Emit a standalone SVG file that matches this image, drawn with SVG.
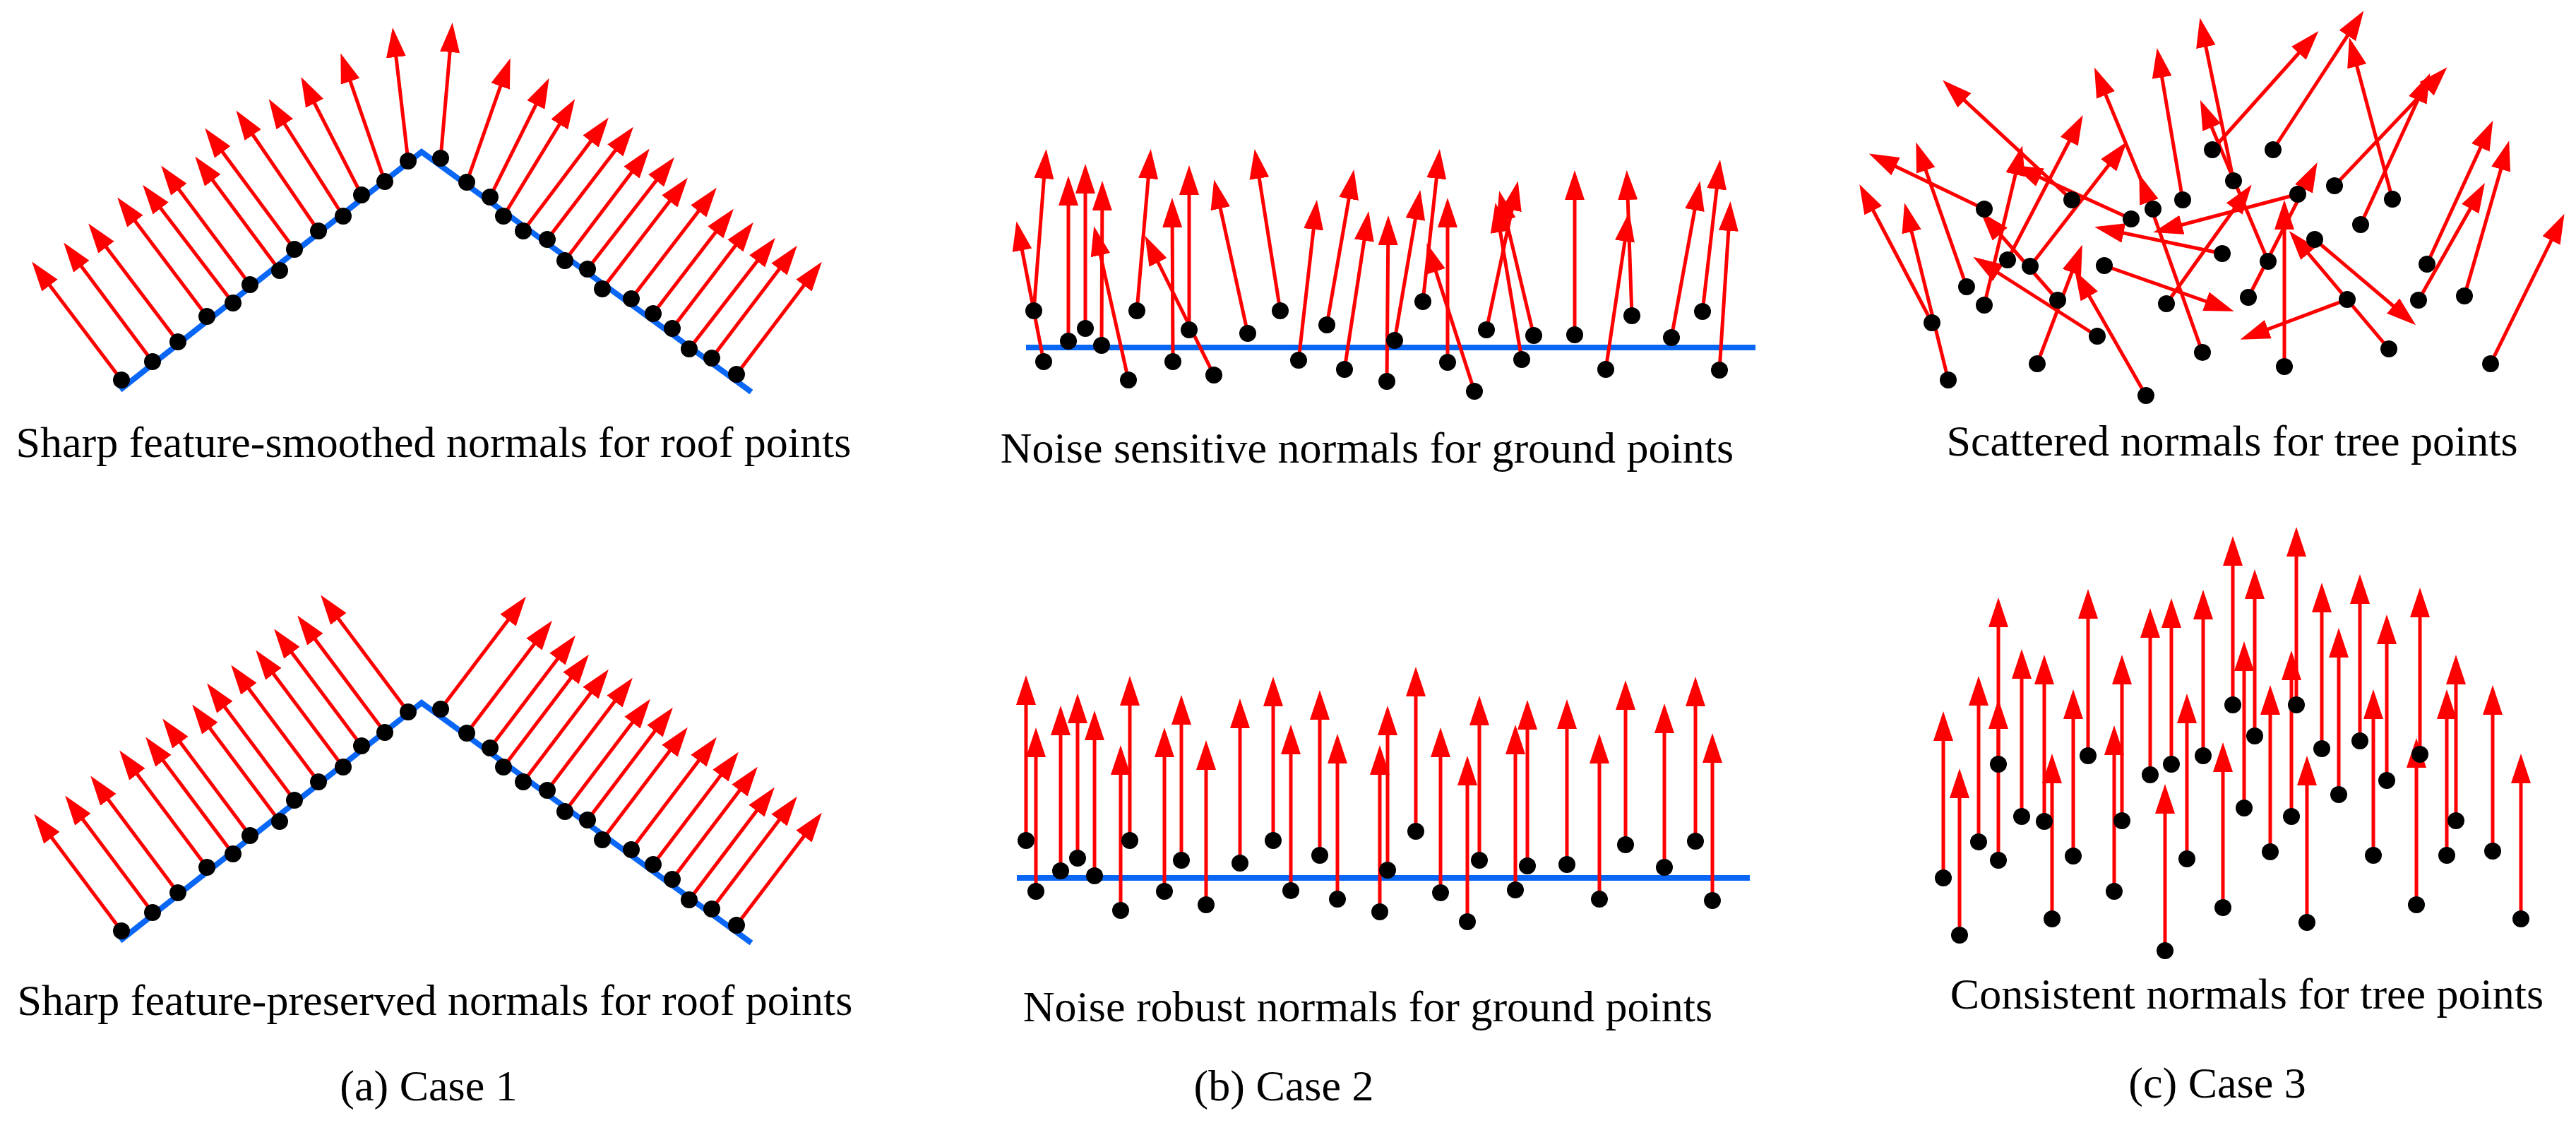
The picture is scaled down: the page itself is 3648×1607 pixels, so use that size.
<svg xmlns="http://www.w3.org/2000/svg" width="3648" height="1607" viewBox="0 0 3648 1607">
<defs>
<marker id="ah" markerUnits="userSpaceOnUse" markerWidth="42" markerHeight="28" refX="34" refY="14" orient="auto" viewBox="0 0 42 28"><path d="M0,0 L42,14 L0,28 z" fill="#ff0000"/></marker>
</defs>
<style>
.arr{stroke:#ff0000;stroke-width:5;fill:none;marker-end:url(#ah)}
.base{stroke:#0a66f5;stroke-width:8;fill:none;stroke-linecap:butt;stroke-linejoin:miter}
.dot{fill:#000000}
text{font-family:"Liberation Serif","Times New Roman",serif;font-size:62px;text-anchor:middle;fill:#000}
</style>
<rect width="3648" height="1607" fill="#ffffff"/>

<!-- Case 1 top -->
<g id="case1-top">
<polyline class="base" points="170,552 597,215 1064,555"/>
<g id="case1-top-normals">
<line class="arr" x1="172" y1="538" x2="50" y2="377"/>
<line class="arr" x1="216" y1="512" x2="95" y2="350"/>
<line class="arr" x1="252" y1="484" x2="130" y2="323"/>
<line class="arr" x1="293" y1="448" x2="171" y2="286"/>
<line class="arr" x1="330" y1="429" x2="207" y2="268"/>
<line class="arr" x1="354" y1="403" x2="233" y2="241"/>
<line class="arr" x1="396" y1="383" x2="281" y2="228"/>
<line class="arr" x1="417" y1="353" x2="295" y2="188"/>
<line class="arr" x1="451" y1="327" x2="339" y2="163"/>
<line class="arr" x1="486" y1="306" x2="385" y2="147"/>
<line class="arr" x1="512" y1="276" x2="430" y2="116"/>
<line class="arr" x1="545" y1="257" x2="485" y2="83"/>
<line class="arr" x1="578" y1="228" x2="557" y2="47"/>
<line class="arr" x1="624" y1="224" x2="640" y2="40"/>
<line class="arr" x1="661" y1="258" x2="720" y2="90"/>
<line class="arr" x1="694" y1="279" x2="774" y2="118"/>
<line class="arr" x1="713" y1="306" x2="810" y2="147"/>
<line class="arr" x1="741" y1="327" x2="857" y2="173"/>
<line class="arr" x1="775" y1="339" x2="892" y2="186"/>
<line class="arr" x1="800" y1="369" x2="915" y2="217"/>
<line class="arr" x1="832" y1="381" x2="950" y2="229"/>
<line class="arr" x1="853" y1="409" x2="969" y2="258"/>
<line class="arr" x1="894" y1="423" x2="1010" y2="272"/>
<line class="arr" x1="925" y1="444" x2="1034" y2="302"/>
<line class="arr" x1="952" y1="465" x2="1062" y2="321"/>
<line class="arr" x1="976" y1="494" x2="1093" y2="343"/>
<line class="arr" x1="1008" y1="507" x2="1124" y2="354"/>
<line class="arr" x1="1043" y1="530" x2="1159" y2="377"/>
</g>
<g id="case1-top-points">
<circle class="dot" cx="172" cy="538" r="12"/><circle class="dot" cx="216" cy="512" r="12"/><circle class="dot" cx="252" cy="484" r="12"/><circle class="dot" cx="293" cy="448" r="12"/><circle class="dot" cx="330" cy="429" r="12"/><circle class="dot" cx="354" cy="403" r="12"/><circle class="dot" cx="396" cy="383" r="12"/><circle class="dot" cx="417" cy="353" r="12"/><circle class="dot" cx="451" cy="327" r="12"/><circle class="dot" cx="486" cy="306" r="12"/><circle class="dot" cx="512" cy="276" r="12"/><circle class="dot" cx="545" cy="257" r="12"/><circle class="dot" cx="578" cy="228" r="12"/>
<circle class="dot" cx="624" cy="224" r="12"/><circle class="dot" cx="661" cy="258" r="12"/><circle class="dot" cx="694" cy="279" r="12"/><circle class="dot" cx="713" cy="306" r="12"/><circle class="dot" cx="741" cy="327" r="12"/><circle class="dot" cx="775" cy="339" r="12"/><circle class="dot" cx="800" cy="369" r="12"/><circle class="dot" cx="832" cy="381" r="12"/><circle class="dot" cx="853" cy="409" r="12"/><circle class="dot" cx="894" cy="423" r="12"/><circle class="dot" cx="925" cy="444" r="12"/><circle class="dot" cx="952" cy="465" r="12"/><circle class="dot" cx="976" cy="494" r="12"/><circle class="dot" cx="1008" cy="507" r="12"/><circle class="dot" cx="1043" cy="530" r="12"/>
</g>
<text x="614" y="647">Sharp feature-smoothed normals for roof points</text>
</g>

<!-- Case 1 bottom -->
<g id="case1-bottom">
<g transform="translate(0,780)">
<polyline class="base" points="170,552 597,215 1064,555"/>
<g id="case1-bottom-normals">
<line class="arr" x1="172" y1="538" x2="53" y2="379"/>
<line class="arr" x1="216" y1="512" x2="97" y2="353"/>
<line class="arr" x1="252" y1="484" x2="133" y2="325"/>
<line class="arr" x1="293" y1="448" x2="174" y2="289"/>
<line class="arr" x1="330" y1="429" x2="211" y2="270"/>
<line class="arr" x1="354" y1="403" x2="235" y2="244"/>
<line class="arr" x1="396" y1="383" x2="277" y2="224"/>
<line class="arr" x1="417" y1="353" x2="298" y2="194"/>
<line class="arr" x1="451" y1="327" x2="332" y2="168"/>
<line class="arr" x1="486" y1="306" x2="367" y2="147"/>
<line class="arr" x1="512" y1="276" x2="393" y2="117"/>
<line class="arr" x1="545" y1="257" x2="426" y2="98"/>
<line class="arr" x1="578" y1="228" x2="459" y2="69"/>
<line class="arr" x1="624" y1="224" x2="740" y2="71"/>
<line class="arr" x1="661" y1="258" x2="777" y2="105"/>
<line class="arr" x1="694" y1="279" x2="810" y2="126"/>
<line class="arr" x1="713" y1="306" x2="829" y2="153"/>
<line class="arr" x1="741" y1="327" x2="857" y2="174"/>
<line class="arr" x1="775" y1="339" x2="891" y2="186"/>
<line class="arr" x1="800" y1="369" x2="916" y2="216"/>
<line class="arr" x1="832" y1="381" x2="948" y2="228"/>
<line class="arr" x1="853" y1="409" x2="969" y2="256"/>
<line class="arr" x1="894" y1="423" x2="1010" y2="270"/>
<line class="arr" x1="925" y1="444" x2="1041" y2="291"/>
<line class="arr" x1="952" y1="465" x2="1068" y2="312"/>
<line class="arr" x1="976" y1="494" x2="1092" y2="341"/>
<line class="arr" x1="1008" y1="507" x2="1124" y2="354"/>
<line class="arr" x1="1043" y1="530" x2="1159" y2="377"/>
</g>
<g id="case1-bottom-points">
<circle class="dot" cx="172" cy="538" r="12"/><circle class="dot" cx="216" cy="512" r="12"/><circle class="dot" cx="252" cy="484" r="12"/><circle class="dot" cx="293" cy="448" r="12"/><circle class="dot" cx="330" cy="429" r="12"/><circle class="dot" cx="354" cy="403" r="12"/><circle class="dot" cx="396" cy="383" r="12"/><circle class="dot" cx="417" cy="353" r="12"/><circle class="dot" cx="451" cy="327" r="12"/><circle class="dot" cx="486" cy="306" r="12"/><circle class="dot" cx="512" cy="276" r="12"/><circle class="dot" cx="545" cy="257" r="12"/><circle class="dot" cx="578" cy="228" r="12"/>
<circle class="dot" cx="624" cy="224" r="12"/><circle class="dot" cx="661" cy="258" r="12"/><circle class="dot" cx="694" cy="279" r="12"/><circle class="dot" cx="713" cy="306" r="12"/><circle class="dot" cx="741" cy="327" r="12"/><circle class="dot" cx="775" cy="339" r="12"/><circle class="dot" cx="800" cy="369" r="12"/><circle class="dot" cx="832" cy="381" r="12"/><circle class="dot" cx="853" cy="409" r="12"/><circle class="dot" cx="894" cy="423" r="12"/><circle class="dot" cx="925" cy="444" r="12"/><circle class="dot" cx="952" cy="465" r="12"/><circle class="dot" cx="976" cy="494" r="12"/><circle class="dot" cx="1008" cy="507" r="12"/><circle class="dot" cx="1043" cy="530" r="12"/>
</g>
</g>
<text x="616" y="1437">Sharp feature-preserved normals for roof points</text>
</g>

<!-- Case 2 top -->
<g id="case2-top">
<line class="base" x1="1453" y1="492" x2="2486" y2="492"/>
<g id="case2-top-normals">
<line class="arr" x1="1464" y1="440" x2="1481" y2="219"/>
<line class="arr" x1="1478" y1="512" x2="1441" y2="321"/>
<line class="arr" x1="1513" y1="483" x2="1513" y2="257"/>
<line class="arr" x1="1537" y1="465" x2="1537" y2="240"/>
<line class="arr" x1="1560" y1="489" x2="1561" y2="264"/>
<line class="arr" x1="1598" y1="538" x2="1551" y2="328"/>
<line class="arr" x1="1610" y1="440" x2="1629" y2="219"/>
<line class="arr" x1="1661" y1="512" x2="1660" y2="288"/>
<line class="arr" x1="1684" y1="467" x2="1684" y2="242"/>
<line class="arr" x1="1719" y1="531" x2="1625" y2="341"/>
<line class="arr" x1="1767" y1="472" x2="1721" y2="262"/>
<line class="arr" x1="1813" y1="440" x2="1778" y2="219"/>
<line class="arr" x1="1839" y1="510" x2="1864" y2="291"/>
<line class="arr" x1="1879" y1="460" x2="1916" y2="248"/>
<line class="arr" x1="1904" y1="523" x2="1937" y2="307"/>
<line class="arr" x1="1964" y1="540" x2="1966" y2="313"/>
<line class="arr" x1="1975" y1="482" x2="2010" y2="277"/>
<line class="arr" x1="2015" y1="427" x2="2038" y2="219"/>
<line class="arr" x1="2050" y1="513" x2="2050" y2="288"/>
<line class="arr" x1="2088" y1="554" x2="2023" y2="352"/>
<line class="arr" x1="2105" y1="467" x2="2148" y2="264"/>
<line class="arr" x1="2155" y1="509" x2="2119" y2="295"/>
<line class="arr" x1="2172" y1="475" x2="2125" y2="278"/>
<line class="arr" x1="2230" y1="474" x2="2230" y2="249"/>
<line class="arr" x1="2274" y1="523" x2="2306" y2="308"/>
<line class="arr" x1="2311" y1="447" x2="2304" y2="249"/>
<line class="arr" x1="2367" y1="478" x2="2406" y2="264"/>
<line class="arr" x1="2411" y1="441" x2="2435" y2="234"/>
<line class="arr" x1="2435" y1="524" x2="2450" y2="293"/>
</g>
<g id="case2-top-points">
<circle class="dot" cx="1464" cy="440" r="12"/><circle class="dot" cx="1478" cy="512" r="12"/><circle class="dot" cx="1513" cy="483" r="12"/><circle class="dot" cx="1537" cy="465" r="12"/><circle class="dot" cx="1560" cy="489" r="12"/><circle class="dot" cx="1598" cy="538" r="12"/><circle class="dot" cx="1610" cy="440" r="12"/><circle class="dot" cx="1661" cy="512" r="12"/><circle class="dot" cx="1684" cy="467" r="12"/><circle class="dot" cx="1719" cy="531" r="12"/><circle class="dot" cx="1767" cy="472" r="12"/><circle class="dot" cx="1813" cy="440" r="12"/><circle class="dot" cx="1839" cy="510" r="12"/><circle class="dot" cx="1879" cy="460" r="12"/><circle class="dot" cx="1904" cy="523" r="12"/><circle class="dot" cx="1964" cy="540" r="12"/><circle class="dot" cx="1975" cy="482" r="12"/><circle class="dot" cx="2015" cy="427" r="12"/><circle class="dot" cx="2050" cy="513" r="12"/><circle class="dot" cx="2088" cy="554" r="12"/><circle class="dot" cx="2105" cy="467" r="12"/><circle class="dot" cx="2155" cy="509" r="12"/><circle class="dot" cx="2172" cy="475" r="12"/><circle class="dot" cx="2230" cy="474" r="12"/><circle class="dot" cx="2274" cy="523" r="12"/><circle class="dot" cx="2311" cy="447" r="12"/><circle class="dot" cx="2367" cy="478" r="12"/><circle class="dot" cx="2411" cy="441" r="12"/><circle class="dot" cx="2435" cy="524" r="12"/>
</g>
<text x="1936" y="655">Noise sensitive normals for ground points</text>
</g>

<!-- Case 2 bottom -->
<g id="case2-bottom">
<line class="base" x1="1440" y1="1243" x2="2478" y2="1243"/>
<g id="case2-bottom-normals">
<line class="arr" x1="1453" y1="1190" x2="1453" y2="964"/>
<line class="arr" x1="1467" y1="1262" x2="1467" y2="1038"/>
<line class="arr" x1="1502" y1="1233" x2="1502" y2="1007"/>
<line class="arr" x1="1526" y1="1215" x2="1526" y2="990"/>
<line class="arr" x1="1550" y1="1240" x2="1550" y2="1014"/>
<line class="arr" x1="1587" y1="1289" x2="1587" y2="1063"/>
<line class="arr" x1="1600" y1="1190" x2="1600" y2="965"/>
<line class="arr" x1="1649" y1="1262" x2="1649" y2="1038"/>
<line class="arr" x1="1673" y1="1218" x2="1673" y2="992"/>
<line class="arr" x1="1708" y1="1281" x2="1708" y2="1056"/>
<line class="arr" x1="1756" y1="1222" x2="1756" y2="997"/>
<line class="arr" x1="1803" y1="1190" x2="1803" y2="966"/>
<line class="arr" x1="1828" y1="1261" x2="1828" y2="1034"/>
<line class="arr" x1="1869" y1="1211" x2="1869" y2="985"/>
<line class="arr" x1="1894" y1="1273" x2="1894" y2="1047"/>
<line class="arr" x1="1954" y1="1291" x2="1954" y2="1063"/>
<line class="arr" x1="1965" y1="1232" x2="1965" y2="1007"/>
<line class="arr" x1="2005" y1="1177" x2="2005" y2="952"/>
<line class="arr" x1="2040" y1="1264" x2="2040" y2="1038"/>
<line class="arr" x1="2078" y1="1305" x2="2078" y2="1078"/>
<line class="arr" x1="2095" y1="1218" x2="2095" y2="993"/>
<line class="arr" x1="2146" y1="1260" x2="2146" y2="1034"/>
<line class="arr" x1="2163" y1="1226" x2="2163" y2="999"/>
<line class="arr" x1="2219" y1="1224" x2="2219" y2="998"/>
<line class="arr" x1="2265" y1="1273" x2="2265" y2="1047"/>
<line class="arr" x1="2302" y1="1196" x2="2302" y2="971"/>
<line class="arr" x1="2357" y1="1228" x2="2357" y2="1004"/>
<line class="arr" x1="2401" y1="1191" x2="2401" y2="966"/>
<line class="arr" x1="2425" y1="1275" x2="2425" y2="1046"/>
</g>
<g id="case2-bottom-points">
<circle class="dot" cx="1453" cy="1190" r="12"/><circle class="dot" cx="1467" cy="1262" r="12"/><circle class="dot" cx="1502" cy="1233" r="12"/><circle class="dot" cx="1526" cy="1215" r="12"/><circle class="dot" cx="1550" cy="1240" r="12"/><circle class="dot" cx="1587" cy="1289" r="12"/><circle class="dot" cx="1600" cy="1190" r="12"/><circle class="dot" cx="1649" cy="1262" r="12"/><circle class="dot" cx="1673" cy="1218" r="12"/><circle class="dot" cx="1708" cy="1281" r="12"/><circle class="dot" cx="1756" cy="1222" r="12"/><circle class="dot" cx="1803" cy="1190" r="12"/><circle class="dot" cx="1828" cy="1261" r="12"/><circle class="dot" cx="1869" cy="1211" r="12"/><circle class="dot" cx="1894" cy="1273" r="12"/><circle class="dot" cx="1954" cy="1291" r="12"/><circle class="dot" cx="1965" cy="1232" r="12"/><circle class="dot" cx="2005" cy="1177" r="12"/><circle class="dot" cx="2040" cy="1264" r="12"/><circle class="dot" cx="2078" cy="1305" r="12"/><circle class="dot" cx="2095" cy="1218" r="12"/><circle class="dot" cx="2146" cy="1260" r="12"/><circle class="dot" cx="2163" cy="1226" r="12"/><circle class="dot" cx="2219" cy="1224" r="12"/><circle class="dot" cx="2265" cy="1273" r="12"/><circle class="dot" cx="2302" cy="1196" r="12"/><circle class="dot" cx="2357" cy="1228" r="12"/><circle class="dot" cx="2401" cy="1191" r="12"/><circle class="dot" cx="2425" cy="1275" r="12"/>
</g>
<text x="1937" y="1446">Noise robust normals for ground points</text>
</g>

<!-- Case 3 top -->
<g id="case3-top">
<g id="case3-top-normals">
<line class="arr" x1="3133" y1="212" x2="3278" y2="50"/>
<line class="arr" x1="3219" y1="212" x2="3343" y2="22"/>
<line class="arr" x1="3163" y1="256" x2="3117" y2="33"/>
<line class="arr" x1="3306" y1="263" x2="3460" y2="101"/>
<line class="arr" x1="3388" y1="282" x2="3329" y2="61"/>
<line class="arr" x1="3091" y1="283" x2="3056" y2="76"/>
<line class="arr" x1="2934" y1="283" x2="2757" y2="119"/>
<line class="arr" x1="2810" y1="296" x2="2654" y2="221"/>
<line class="arr" x1="3049" y1="296" x2="2969" y2="103"/>
<line class="arr" x1="3018" y1="310" x2="2858" y2="237"/>
<line class="arr" x1="3254" y1="275" x2="3057" y2="327"/>
<line class="arr" x1="3343" y1="318" x2="3438" y2="111"/>
<line class="arr" x1="3147" y1="359" x2="2974" y2="323"/>
<line class="arr" x1="3278" y1="339" x2="3415" y2="455"/>
<line class="arr" x1="3212" y1="370" x2="3119" y2="149"/>
<line class="arr" x1="2843" y1="368" x2="2946" y2="170"/>
<line class="arr" x1="2875" y1="377" x2="3007" y2="207"/>
<line class="arr" x1="2980" y1="376" x2="3156" y2="438"/>
<line class="arr" x1="3437" y1="374" x2="3527" y2="178"/>
<line class="arr" x1="2785" y1="406" x2="2716" y2="209"/>
<line class="arr" x1="2810" y1="432" x2="2862" y2="214"/>
<line class="arr" x1="2914" y1="425" x2="2810" y2="306"/>
<line class="arr" x1="3068" y1="430" x2="3184" y2="268"/>
<line class="arr" x1="3184" y1="421" x2="3278" y2="237"/>
<line class="arr" x1="3324" y1="424" x2="3180" y2="478"/>
<line class="arr" x1="3425" y1="425" x2="3515" y2="266"/>
<line class="arr" x1="3490" y1="419" x2="3551" y2="207"/>
<line class="arr" x1="2736" y1="457" x2="2637" y2="268"/>
<line class="arr" x1="2970" y1="476" x2="2801" y2="368"/>
<line class="arr" x1="3119" y1="499" x2="3032" y2="254"/>
<line class="arr" x1="2885" y1="515" x2="2946" y2="354"/>
<line class="arr" x1="3235" y1="519" x2="3235" y2="291"/>
<line class="arr" x1="3383" y1="494" x2="3247" y2="333"/>
<line class="arr" x1="3527" y1="515" x2="3628" y2="310"/>
<line class="arr" x1="2759" y1="538" x2="2699" y2="295"/>
<line class="arr" x1="3039" y1="560" x2="2942" y2="390"/>
</g>
<g id="case3-top-points">
<circle class="dot" cx="3133" cy="212" r="12"/><circle class="dot" cx="3219" cy="212" r="12"/><circle class="dot" cx="3163" cy="256" r="12"/><circle class="dot" cx="3306" cy="263" r="12"/><circle class="dot" cx="3388" cy="282" r="12"/><circle class="dot" cx="3091" cy="283" r="12"/><circle class="dot" cx="2934" cy="283" r="12"/><circle class="dot" cx="2810" cy="296" r="12"/><circle class="dot" cx="3049" cy="296" r="12"/><circle class="dot" cx="3018" cy="310" r="12"/><circle class="dot" cx="3254" cy="275" r="12"/><circle class="dot" cx="3343" cy="318" r="12"/><circle class="dot" cx="3147" cy="359" r="12"/><circle class="dot" cx="3278" cy="339" r="12"/><circle class="dot" cx="3212" cy="370" r="12"/><circle class="dot" cx="2843" cy="368" r="12"/><circle class="dot" cx="2875" cy="377" r="12"/><circle class="dot" cx="2980" cy="376" r="12"/><circle class="dot" cx="3437" cy="374" r="12"/><circle class="dot" cx="2785" cy="406" r="12"/><circle class="dot" cx="2810" cy="432" r="12"/><circle class="dot" cx="2914" cy="425" r="12"/><circle class="dot" cx="3068" cy="430" r="12"/><circle class="dot" cx="3184" cy="421" r="12"/><circle class="dot" cx="3324" cy="424" r="12"/><circle class="dot" cx="3425" cy="425" r="12"/><circle class="dot" cx="3490" cy="419" r="12"/><circle class="dot" cx="2736" cy="457" r="12"/><circle class="dot" cx="2970" cy="476" r="12"/><circle class="dot" cx="3119" cy="499" r="12"/><circle class="dot" cx="2885" cy="515" r="12"/><circle class="dot" cx="3235" cy="519" r="12"/><circle class="dot" cx="3383" cy="494" r="12"/><circle class="dot" cx="3527" cy="515" r="12"/><circle class="dot" cx="2759" cy="538" r="12"/><circle class="dot" cx="3039" cy="560" r="12"/>
</g>
<text x="3161" y="645">Scattered normals for tree points</text>
</g>

<!-- Case 3 bottom -->
<g id="case3-bottom">
<g id="case3-bottom-normals">
<line class="arr" x1="2752" y1="1243" x2="2752" y2="1015"/>
<line class="arr" x1="2775" y1="1324" x2="2775" y2="1096"/>
<line class="arr" x1="2802" y1="1192" x2="2802" y2="965"/>
<line class="arr" x1="2830" y1="1082" x2="2830" y2="854"/>
<line class="arr" x1="2830" y1="1218" x2="2830" y2="998"/>
<line class="arr" x1="2863" y1="1156" x2="2863" y2="927"/>
<line class="arr" x1="2895" y1="1163" x2="2895" y2="935"/>
<line class="arr" x1="2906" y1="1301" x2="2906" y2="1075"/>
<line class="arr" x1="2936" y1="1212" x2="2936" y2="984"/>
<line class="arr" x1="2957" y1="1070" x2="2957" y2="842"/>
<line class="arr" x1="2994" y1="1262" x2="2994" y2="1035"/>
<line class="arr" x1="3005" y1="1162" x2="3005" y2="935"/>
<line class="arr" x1="3045" y1="1097" x2="3045" y2="869"/>
<line class="arr" x1="3066" y1="1346" x2="3066" y2="1118"/>
<line class="arr" x1="3075" y1="1082" x2="3075" y2="855"/>
<line class="arr" x1="3097" y1="1216" x2="3097" y2="990"/>
<line class="arr" x1="3120" y1="1070" x2="3120" y2="843"/>
<line class="arr" x1="3148" y1="1285" x2="3148" y2="1059"/>
<line class="arr" x1="3162" y1="998" x2="3162" y2="767"/>
<line class="arr" x1="3178" y1="1144" x2="3178" y2="916"/>
<line class="arr" x1="3193" y1="1042" x2="3193" y2="814"/>
<line class="arr" x1="3215" y1="1206" x2="3215" y2="978"/>
<line class="arr" x1="3245" y1="1156" x2="3245" y2="929"/>
<line class="arr" x1="3252" y1="998" x2="3252" y2="754"/>
<line class="arr" x1="3267" y1="1306" x2="3267" y2="1078"/>
<line class="arr" x1="3288" y1="1060" x2="3288" y2="833"/>
<line class="arr" x1="3312" y1="1125" x2="3312" y2="897"/>
<line class="arr" x1="3342" y1="1049" x2="3342" y2="821"/>
<line class="arr" x1="3361" y1="1211" x2="3361" y2="984"/>
<line class="arr" x1="3380" y1="1105" x2="3380" y2="878"/>
<line class="arr" x1="3422" y1="1281" x2="3422" y2="1053"/>
<line class="arr" x1="3427" y1="1068" x2="3427" y2="840"/>
<line class="arr" x1="3465" y1="1211" x2="3465" y2="984"/>
<line class="arr" x1="3478" y1="1162" x2="3478" y2="935"/>
<line class="arr" x1="3530" y1="1205" x2="3530" y2="978"/>
<line class="arr" x1="3570" y1="1301" x2="3570" y2="1075"/>
</g>
<g id="case3-bottom-points">
<circle class="dot" cx="2752" cy="1243" r="12"/><circle class="dot" cx="2775" cy="1324" r="12"/><circle class="dot" cx="2802" cy="1192" r="12"/><circle class="dot" cx="2830" cy="1082" r="12"/><circle class="dot" cx="2830" cy="1218" r="12"/><circle class="dot" cx="2863" cy="1156" r="12"/><circle class="dot" cx="2895" cy="1163" r="12"/><circle class="dot" cx="2906" cy="1301" r="12"/><circle class="dot" cx="2936" cy="1212" r="12"/><circle class="dot" cx="2957" cy="1070" r="12"/><circle class="dot" cx="2994" cy="1262" r="12"/><circle class="dot" cx="3005" cy="1162" r="12"/><circle class="dot" cx="3045" cy="1097" r="12"/><circle class="dot" cx="3066" cy="1346" r="12"/><circle class="dot" cx="3075" cy="1082" r="12"/><circle class="dot" cx="3097" cy="1216" r="12"/><circle class="dot" cx="3120" cy="1070" r="12"/><circle class="dot" cx="3148" cy="1285" r="12"/><circle class="dot" cx="3162" cy="998" r="12"/><circle class="dot" cx="3178" cy="1144" r="12"/><circle class="dot" cx="3193" cy="1042" r="12"/><circle class="dot" cx="3215" cy="1206" r="12"/><circle class="dot" cx="3245" cy="1156" r="12"/><circle class="dot" cx="3252" cy="998" r="12"/><circle class="dot" cx="3267" cy="1306" r="12"/><circle class="dot" cx="3288" cy="1060" r="12"/><circle class="dot" cx="3312" cy="1125" r="12"/><circle class="dot" cx="3342" cy="1049" r="12"/><circle class="dot" cx="3361" cy="1211" r="12"/><circle class="dot" cx="3380" cy="1105" r="12"/><circle class="dot" cx="3422" cy="1281" r="12"/><circle class="dot" cx="3427" cy="1068" r="12"/><circle class="dot" cx="3465" cy="1211" r="12"/><circle class="dot" cx="3478" cy="1162" r="12"/><circle class="dot" cx="3530" cy="1205" r="12"/><circle class="dot" cx="3570" cy="1301" r="12"/>
</g>
<text x="3182" y="1428">Consistent normals for tree points</text>
</g>

<g id="case-labels">
<text x="607" y="1558">(a) Case 1</text>
<text x="1818" y="1558">(b) Case 2</text>
<text x="3140" y="1554">(c) Case 3</text>
</g>
</svg>
